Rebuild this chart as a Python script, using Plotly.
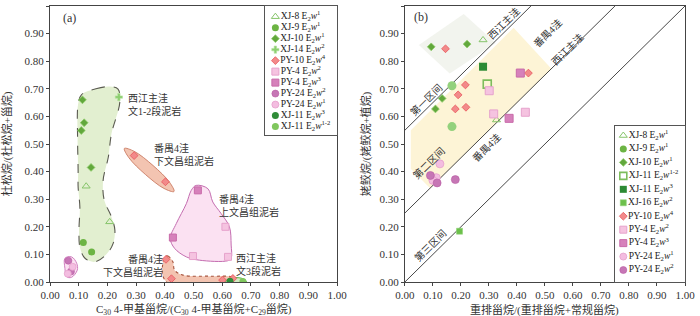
import plotly.graph_objects as go

FONT = "Liberation Serif, Noto Sans CJK SC, serif"
CJK = "Liberation Serif, Noto Sans CJK SC, serif"

# ---------------- Panel (a) data ----------------
A_XJ8_X = [0.126, 0.208];  A_XJ8_Y = [0.347, 0.218]
A_XJ9_X = [0.116, 0.145];  A_XJ9_Y = [0.143, 0.109]
A_XJ10_X = [0.113, 0.119, 0.109, 0.143];  A_XJ10_Y = [0.660, 0.577, 0.549, 0.415]
A_XJ14_X = [0.240];  A_XJ14_Y = [0.670]
A_PY10_X = [0.293, 0.402, 0.404, 0.423, 0.601, 0.637]
A_PY10_Y = [0.458, 0.363, 0.082, 0.012, 0.007, 0.013]
A_PY4W2_X = [0.611, 0.498, 0.620];  A_PY4W2_Y = [0.200, 0.094, 0.091]
A_PY4W3_X = [0.515, 0.428];  A_PY4W3_Y = [0.332, 0.161]
A_PY24W2_X = [0.064, 0.073];  A_PY24W2_Y = [0.077, 0.038]
A_PY24W1_X = [0.079, 0.062];  A_PY24W1_Y = [0.055, 0.030]
A_XJ11W3_X = [0.627];  A_XJ11W3_Y = [0.003]
A_XJ11W12_X = [0.672];  A_XJ11W12_Y = [0.002]

# enclosure outlines in panel (a) (data units)
ENC_GREEN_X = [0.110, 0.160, 0.208, 0.237, 0.243, 0.214, 0.203, 0.185, 0.189, 0.214, 0.226, 0.220,
               0.197, 0.156, 0.122, 0.104, 0.101, 0.104, 0.098, 0.098, 0.096, 0.098, 0.110]
ENC_GREEN_Y = [0.679, 0.700, 0.708, 0.699, 0.650, 0.537, 0.452, 0.368, 0.296, 0.236, 0.188, 0.140,
               0.101, 0.073, 0.086, 0.127, 0.188, 0.272, 0.344, 0.404, 0.525, 0.645, 0.679]
ENC_RED1_X = [0.432, 0.416, 0.359, 0.294, 0.259, 0.275, 0.332, 0.397, 0.432]
ENC_RED1_Y = [0.328, 0.362, 0.422, 0.473, 0.484, 0.450, 0.390, 0.339, 0.328]
ENC_RED2_X = [0.400, 0.411, 0.428, 0.434, 0.463, 0.560, 0.637, 0.660, 0.648, 0.560, 0.417, 0.394, 0.392, 0.400]
ENC_RED2_Y = [0.091, 0.094, 0.073, 0.043, 0.025, 0.021, 0.019, 0.008, -0.003, -0.005, -0.007, 0.019, 0.060, 0.091]
ENC_PINK_X = [0.509, 0.550, 0.567, 0.596, 0.625, 0.631, 0.631, 0.619, 0.521, 0.475, 0.434, 0.419,
              0.440, 0.475, 0.492, 0.509]
ENC_PINK_Y = [0.350, 0.338, 0.290, 0.248, 0.200, 0.134, 0.086, 0.077, 0.079, 0.091, 0.122, 0.158,
              0.212, 0.284, 0.332, 0.350]
ENC_PURPLE_X = [0.052, 0.075, 0.093, 0.095, 0.075, 0.058, 0.052, 0.052]
ENC_PURPLE_Y = [0.086, 0.091, 0.068, 0.043, 0.017, 0.019, 0.049, 0.086]
ENC_GREEN2_X = [0.611, 0.622, 0.648, 0.674, 0.685, 0.674, 0.648, 0.622, 0.611]
ENC_GREEN2_Y = [0.000, 0.011, 0.016, 0.011, 0.000, -0.011, -0.016, -0.011, 0.000]

# ---------------- Panel (b) data ----------------
B_XJ8_X = [0.279, 0.327];  B_XJ8_Y = [0.877, 0.587]
B_XJ9_X = [0.168, 0.168];  B_XJ9_Y = [0.711, 0.563]
B_XJ10_X = [0.094, 0.222, 0.133, 0.109];  B_XJ10_Y = [0.852, 0.862, 0.665, 0.627]
B_XJ11W12_X = [0.294];  B_XJ11W12_Y = [0.717]
B_XJ11W3_X = [0.279];  B_XJ11W3_Y = [0.780]
B_XJ16_X = [0.195];  B_XJ16_Y = [0.184]
B_PY10_X = [0.145, 0.441, 0.216, 0.190, 0.180, 0.218]
B_PY10_Y = [0.845, 0.757, 0.714, 0.678, 0.627, 0.633]
B_PY4W2_X = [0.301, 0.317, 0.430];  B_PY4W2_Y = [0.693, 0.609, 0.615]
B_PY4W3_X = [0.412, 0.372];  B_PY4W3_Y = [0.757, 0.593]
B_PY24W1_X = [0.125, 0.112, 0.100];  B_PY24W1_Y = [0.428, 0.378, 0.368]
B_PY24W2_X = [0.091, 0.115, 0.180];  B_PY24W2_Y = [0.386, 0.359, 0.371]

B_LINE_OFFSETS = [0.55, 0.25, 0.0]
B_YELLOW_X = [0.388, 0.523, 0.090, 0.021, 0.021, 0.388]
B_YELLOW_Y = [0.921, 0.773, 0.340, 0.410, 0.550, 0.921]
B_GRAY_X = [0.210, 0.324, 0.160, 0.050, 0.210]
B_GRAY_Y = [0.971, 0.866, 0.755, 0.859, 0.971]

# ---------------- styles ----------------
STY = {
    "XJ-8 w1":   dict(symbol="triangle-up-open", color="#86c46a", size=7, line=dict(width=1, color="#86c46a")),
    "XJ-9 w1":   dict(symbol="circle", color="#6cb443", size=7, line=dict(width=0)),
    "XJ-10 w1":  dict(symbol="diamond", color="#62a83c", size=6, line=dict(width=0.8, color="#8fcb6c")),
    "XJ-14 w2":  dict(symbol="cross", color="#8ccf6f", size=6, line=dict(width=0.6, color="#b6e0a0")),
    "PY-10 w4":  dict(symbol="diamond", color="#f28a8a", size=6, line=dict(width=0.8, color="#e8545a")),
    "PY-4 w2":   dict(symbol="square", color="#f5c3e0", size=7, line=dict(width=1, color="#e6a2cc")),
    "PY-4 w3":   dict(symbol="square", color="#d681bb", size=7, line=dict(width=1, color="#c86aa9")),
    "PY-24 w2":  dict(symbol="circle", color="#c676b5", size=7, line=dict(width=0.6, color="#b85aa3")),
    "PY-24 w1":  dict(symbol="circle", color="#f3bde0", size=7, line=dict(width=0.8, color="#e6a0cc")),
    "XJ-11 w3":  dict(symbol="circle", color="#2f8c38", size=7, line=dict(width=0)),
    "XJ-11 w12": dict(symbol="circle", color="#80c75e", size=7, line=dict(width=0)),
    "XJ-11 w12b": dict(symbol="square-open", color="#7dbd5c", size=8, line=dict(width=1.6, color="#7dbd5c")),
    "XJ-11 w3b": dict(symbol="square", color="#2c8a33", size=8, line=dict(width=0)),
    "XJ-16 w2":  dict(symbol="square", color="#6cc04b", size=6, line=dict(width=0.6, color="#93d47a")),
}

def lab(well, sub="2", sup="1"):
    return f"{well} E<sub>{sub}</sub><i>w</i><sup>{sup}</sup>"

A_SERIES = [
    ("XJ-8 w1", lab("XJ-8", sup="1"), A_XJ8_X, A_XJ8_Y),
    ("XJ-9 w1", lab("XJ-9", sup="1"), A_XJ9_X, A_XJ9_Y),
    ("XJ-10 w1", lab("XJ-10", sup="1"), A_XJ10_X, A_XJ10_Y),
    ("XJ-14 w2", lab("XJ-14", sup="2"), A_XJ14_X, A_XJ14_Y),
    ("PY-10 w4", lab("PY-10", sup="4"), A_PY10_X, A_PY10_Y),
    ("PY-4 w2", lab("PY-4", sup="2"), A_PY4W2_X, A_PY4W2_Y),
    ("PY-4 w3", lab("PY-4", sup="3"), A_PY4W3_X, A_PY4W3_Y),
    ("PY-24 w2", lab("PY-24", sup="2"), A_PY24W2_X, A_PY24W2_Y),
    ("PY-24 w1", lab("PY-24", sup="1"), A_PY24W1_X, A_PY24W1_Y),
    ("XJ-11 w3", lab("XJ-11", sup="3"), A_XJ11W3_X, A_XJ11W3_Y),
    ("XJ-11 w12", lab("XJ-11", sup="1-2"), A_XJ11W12_X, A_XJ11W12_Y),
]
B_SERIES = [
    ("XJ-8 w1", lab("XJ-8", sup="1"), B_XJ8_X, B_XJ8_Y),
    ("XJ-9 w1", lab("XJ-9", sup="1"), B_XJ9_X, B_XJ9_Y),
    ("XJ-10 w1", lab("XJ-10", sup="1"), B_XJ10_X, B_XJ10_Y),
    ("XJ-11 w12b", lab("XJ-11", sup="1-2"), B_XJ11W12_X, B_XJ11W12_Y),
    ("XJ-11 w3b", lab("XJ-11", sup="3"), B_XJ11W3_X, B_XJ11W3_Y),
    ("XJ-16 w2", lab("XJ-16", sup="2"), B_XJ16_X, B_XJ16_Y),
    ("PY-10 w4", lab("PY-10", sup="4"), B_PY10_X, B_PY10_Y),
    ("PY-4 w2", lab("PY-4", sup="2"), B_PY4W2_X, B_PY4W2_Y),
    ("PY-4 w3", lab("PY-4", sup="3"), B_PY4W3_X, B_PY4W3_Y),
    ("PY-24 w1", lab("PY-24", sup="1"), B_PY24W1_X, B_PY24W1_Y),
    ("PY-24 w2", lab("PY-24", sup="2"), B_PY24W2_X, B_PY24W2_Y),
]

fig = go.Figure()

def region(xs, ys, fill, line_color=None, dash="solid", width=1, xa="x", ya="y", smooth=True):
    fig.add_trace(go.Scatter(
        x=xs, y=ys, xaxis=xa, yaxis=ya, mode="lines", fill="toself", fillcolor=fill,
        line=dict(color=line_color or fill, width=width if line_color else 0, dash=dash,
                  shape="spline" if smooth else "linear", smoothing=1.0),
        hoverinfo="skip", showlegend=False))

# panel (a) enclosures
region(ENC_GREEN_X, ENC_GREEN_Y, "#e2efd0", "#5a5a50", "dash", 1.1)
region(ENC_RED1_X, ENC_RED1_Y, "#f3c4b1", "#c97a62", "solid", 0.9)
region(ENC_RED2_X, ENC_RED2_Y, "#f3c4b1", "#a8553f", "dot", 1.1)
region(ENC_PINK_X, ENC_PINK_Y, "#fbe1f2", "#c46db0", "solid", 1.0)
region(ENC_PURPLE_X, ENC_PURPLE_Y, "#fbe1f2", "#cf7fbf", "solid", 1.0)
region(ENC_GREEN2_X, ENC_GREEN2_Y, "#d3eac3", "#5cb84c", "solid", 1.0)

# panel (b) regions
region(B_YELLOW_X, B_YELLOW_Y, "#fdf4d6", None, xa="x2", ya="y2", smooth=False)
region(B_GRAY_X, B_GRAY_Y, "#f2f4ee", None, xa="x2", ya="y2", smooth=False)
for off in B_LINE_OFFSETS:
    fig.add_trace(go.Scatter(x=[0, 1 - off], y=[off, 1], xaxis="x2", yaxis="y2", mode="lines",
                             line=dict(color="#333333", width=0.9), hoverinfo="skip", showlegend=False))

# points
for key, name, xs, ys in A_SERIES:
    fig.add_trace(go.Scatter(x=xs, y=ys, mode="markers", marker=STY[key], name=name,
                             xaxis="x", yaxis="y", showlegend=False))
for key, name, xs, ys in B_SERIES:
    st = dict(STY[key])
    if key in ("XJ-9 w1",):
        st = dict(st, size=9, color="#93d17c")
    if key in ("PY-4 w2", "PY-4 w3", "PY-24 w1", "PY-24 w2"):
        st = dict(st, size=8)
    fig.add_trace(go.Scatter(x=xs, y=ys, mode="markers", marker=st, name=name,
                             xaxis="x2", yaxis="y2", showlegend=False))

# legend boxes drawn as small subplots
def legend_box(series, xa, ya, mx):
    for i, (key, name, xs, ys) in enumerate(series):
        st = dict(STY[key])
        st["size"] = min(st["size"], 7)
        fig.add_trace(go.Scatter(x=[mx], y=[i], mode="markers+text", marker=st, text=[name],
                                 textposition="middle right",
                                 textfont=dict(family=FONT, size=9.5, color="#222"),
                                 xaxis=xa, yaxis=ya, showlegend=False, hoverinfo="skip",
                                 cliponaxis=False))

legend_box(A_SERIES, "x3", "y3", 0.14)
legend_box(B_SERIES, "x4", "y4", 0.12)

axis_common = dict(range=[0, 1], dtick=0.1, tick0=0, tickformat=".2f", ticks="outside", ticklen=3,
                   tickcolor="#444", showline=True, mirror=True, linecolor="#444", linewidth=1,
                   showgrid=False, zeroline=False, tickfont=dict(family=FONT, size=11, color="#333"))
box_common = dict(showline=True, mirror=True, linecolor="#555", linewidth=1.2, showgrid=False,
                  zeroline=False, showticklabels=False, ticks="")

tfont = dict(family=CJK, size=11, color="#333")
fig.update_layout(
    width=700, height=316, margin=dict(l=50, r=13, t=5, b=34),
    plot_bgcolor="white", paper_bgcolor="white", showlegend=False,
    font=dict(family=FONT, size=11, color="#333"),
    xaxis=dict(axis_common, domain=[0, 0.4521], anchor="y"),
    yaxis=dict(axis_common, domain=[0, 1], anchor="x",
               title=dict(text="杜松烷/(杜松烷+甾烷)", font=tfont, standoff=10)),
    xaxis2=dict(axis_common, domain=[0.5589, 1], anchor="y2"),
    yaxis2=dict(axis_common, domain=[0, 1], anchor="x2",
                title=dict(text="姥鲛烷/(姥鲛烷+植烷)", font=tfont, standoff=6)),
    xaxis3=dict(box_common, domain=[0.3391, 0.4521], anchor="y3", range=[0, 1]),
    yaxis3=dict(box_common, domain=[0.5343, 1], anchor="x3", range=[10.725, -0.97]),
    xaxis4=dict(box_common, domain=[0.8896, 1], anchor="y4", range=[0, 1]),
    yaxis4=dict(box_common, domain=[0, 0.5668], anchor="x4", range=[10.89, -0.74]),
)

# x-axis titles as paper annotations placed just under the tick labels
X_TITLES = [
    ("C<sub>30</sub> 4-甲基甾烷/(C<sub>30</sub> 4-甲基甾烷+C<sub>29</sub>甾烷)", 0.4521 / 2),
    ("重排甾烷/(重排甾烷+常规甾烷)", (0.5589 + 1) / 2),
]
for txt, xc in X_TITLES:
    fig.add_annotation(x=xc, y=-0.1, xref="paper", yref="paper", text=txt, showarrow=False,
                       xanchor="center", yanchor="middle", font=tfont)

ann_font = dict(family=CJK, size=10, color="#333")
A_NOTES = [
    ("(a)", 0.069, 0.957, "center", 12),
    ("西江主洼<br>文1-2段泥岩", 0.264, 0.644, "left", 10),
    ("番禺4洼<br>下文昌组泥岩", 0.354, 0.462, "left", 10),
    ("番禺4洼<br>上文昌组泥岩", 0.583, 0.276, "left", 10),
    ("西江主洼<br>文3段泥岩", 0.642, 0.065, "left", 10),
    ("番禺4洼<br>下文昌组泥岩", 0.399, 0.061, "right", 10),
]
for txt, x, y, anc, sz in A_NOTES:
    fig.add_annotation(x=x, y=y, xref="x", yref="y", text=txt, showarrow=False, xanchor=anc,
                       yanchor="middle", align=anc if anc != "center" else "center",
                       font=dict(ann_font, size=sz))

B_NOTES = [
    ("(b)", 0.056, 0.960, 0),
    ("第一区间", 0.074, 0.660, -44.6),
    ("西江主洼", 0.352, 0.940, -44.6),
    ("第二区间", 0.085, 0.430, -44.6),
    ("番禺4洼", 0.293, 0.488, -44.6),
    ("番禺4洼", 0.509, 0.903, -44.6),
    ("西江主洼", 0.580, 0.845, -44.6),
    ("第三区间", 0.091, 0.134, -44.6),
]
for txt, x, y, ang in B_NOTES:
    fig.add_annotation(x=x, y=y, xref="x2", yref="y2", text=txt, showarrow=False, textangle=ang,
                       xanchor="center", yanchor="middle",
                       font=dict(ann_font, size=12 if txt == "(b)" else 10))

fig.write_html("out.html", config={"displayModeBar": False},
               post_script="document.body.style.margin='0';")
